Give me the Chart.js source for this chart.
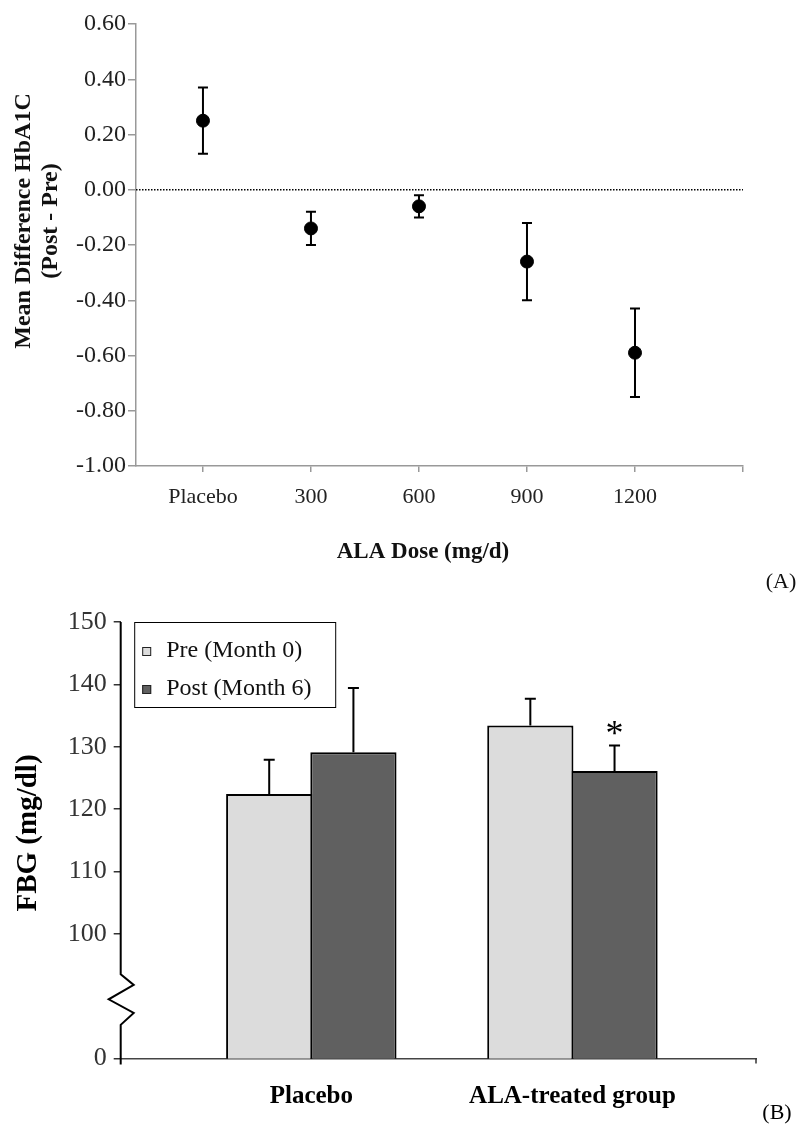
<!DOCTYPE html>
<html>
<head>
<meta charset="utf-8">
<script src="https://cdn.jsdelivr.net/npm/chart.js@4.4.1/dist/chart.umd.min.js"></script>
<style>
  html, body { margin: 0; padding: 0; background: #fff; }
  #chartA { position: absolute; left: 0; top: 0; }
  #chartB { position: absolute; left: 0; top: 595px; }
</style>
</head>
<body>
<canvas id="chartA" width="797" height="595"></canvas>
<canvas id="chartB" width="797" height="531"></canvas>
<script>
// panel A - HbA1C change by ALA dose
const doseLabels = ['Placebo', '300', '600', '900', '1200'];
const hba1cMean = [0.25, -0.14, -0.06, -0.26, -0.59];
const hba1cErr = [0.12, 0.06, 0.04, 0.14, 0.16];
const hba1cTicks = [-1.0, -0.8, -0.6, -0.4, -0.2, 0, 0.2, 0.4, 0.6];

// panel B - fasting blood glucose
const groupLabels = ['Placebo', 'ALA-treated group'];
const preMean = [122.4, 133.4];
const preErr = [5.5, 4.3];
const postMean = [129.1, 126.1];
const postErr = [10.3, 4.1];
const postMarks = ['', '*'];
const fbgTickValues = [80, 100, 110, 120, 130, 140, 150];
const fbgTickLabels = ['0', '100', '110', '120', '130', '140', '150'];

const serif = 'Liberation Serif';

// error bars, zero line and titles for panel A
const panelAExtras = {
    id: 'panelAExtras',
    beforeDatasetsDraw(chart) {
        const {ctx, chartArea} = chart;
        const x = chart.scales.x, y = chart.scales.y;
        const y0 = y.getPixelForValue(0);
        ctx.save();
        ctx.strokeStyle = '#000';
        ctx.lineWidth = 1.5;
        ctx.setLineDash([1.5, 1.5]);
        ctx.beginPath();
        ctx.moveTo(chartArea.left, y0);
        ctx.lineTo(chartArea.right, y0);
        ctx.stroke();
        ctx.setLineDash([]);
        ctx.lineWidth = 2;
        hba1cMean.forEach((m, i) => {
            const px = x.getPixelForValue(i);
            const top = y.getPixelForValue(m + hba1cErr[i]);
            const bot = y.getPixelForValue(m - hba1cErr[i]);
            ctx.beginPath();
            ctx.moveTo(px, top); ctx.lineTo(px, bot);
            ctx.moveTo(px - 5, top); ctx.lineTo(px + 5, top);
            ctx.moveTo(px - 5, bot); ctx.lineTo(px + 5, bot);
            ctx.stroke();
        });
        ctx.restore();
    },
    afterDraw(chart) {
        const ctx = chart.ctx;
        ctx.save();
        ctx.fillStyle = '#111';
        ctx.textAlign = 'center';
        ctx.font = 'bold 24px "' + serif + '"';
        ctx.translate(24, 221);
        ctx.rotate(-Math.PI / 2);
        ctx.textBaseline = 'middle';
        ctx.fillText('Mean Difference HbA1C', 0, 0);
        ctx.fillText('(Post - Pre)', 0, 27);
        ctx.setTransform(1, 0, 0, 1, 0, 0);
        ctx.textBaseline = 'alphabetic';
        ctx.font = 'bold 23px "' + serif + '"';
        ctx.fillText('ALA Dose (mg/d)', 423, 558);
        ctx.font = '22px "' + serif + '"';
        ctx.fillText('(A)', 781, 588);
        ctx.restore();
    }
};

new Chart(document.getElementById('chartA'), {
    type: 'scatter',
    data: {
        datasets: [{
            data: hba1cMean.map((v, i) => ({x: i, y: v})),
            pointRadius: 6.5,
            pointBackgroundColor: '#000',
            pointBorderColor: '#000',
            showLine: false
        }]
    },
    options: {
        responsive: false,
        animation: false,
        layout: { padding: { top: 24, right: 54, left: 0, bottom: 0 } },
        plugins: { legend: { display: false }, tooltip: { enabled: false } },
        scales: {
            x: {
                type: 'linear', min: -0.62, max: 5,
                afterBuildTicks: s => { s.ticks = doseLabels.concat(['']).map((_, i) => ({value: i})); },
                afterFit: s => { s.height = 129; },
                ticks: {
                    callback: v => doseLabels[v] !== undefined ? doseLabels[v] : '',
                    font: { family: serif, size: 22 }, color: '#222',
                    padding: 12, maxRotation: 0, autoSkip: false
                },
                grid: { drawOnChartArea: false, tickLength: 6, color: '#999', lineWidth: 1.5 },
                border: { color: '#999', width: 1.5 }
            },
            y: {
                min: -1, max: 0.6,
                afterBuildTicks: s => { s.ticks = hba1cTicks.map(v => ({value: v})); },
                afterFit: s => { s.width = 136; },
                ticks: {
                    callback: v => v.toFixed(2),
                    font: { family: serif, size: 24 }, color: '#222',
                    padding: 2, autoSkip: false
                },
                grid: { drawOnChartArea: false, tickLength: 8, color: '#999', lineWidth: 1.5 },
                border: { color: '#999', width: 1.5 }
            }
        }
    },
    plugins: [panelAExtras]
});

// broken axis, error bars, legend, star and titles for panel B
const panelBExtras = {
    id: 'panelBExtras',
    afterDatasetsDraw(chart) {
        const {ctx, chartArea} = chart;
        const y = chart.scales.y;
        const errs = [preErr, postErr];
        const means = [preMean, postMean];
        ctx.save();
        ctx.strokeStyle = '#000';
        ctx.lineWidth = 2;
        errs.forEach((err, d) => {
            chart.getDatasetMeta(d).data.forEach((bar, i) => {
                const top = y.getPixelForValue(means[d][i] + err[i]);
                ctx.beginPath();
                ctx.moveTo(bar.x, bar.y);
                ctx.lineTo(bar.x, top);
                ctx.moveTo(bar.x - 5.5, top);
                ctx.lineTo(bar.x + 5.5, top);
                ctx.stroke();
                if (d === 1 && postMarks[i]) {
                    ctx.fillStyle = '#000';
                    ctx.font = '36px "' + serif + '"';
                    ctx.textAlign = 'center';
                    ctx.textBaseline = 'middle';
                    ctx.fillText(postMarks[i], bar.x, top - 10);
                }
            });
        });

        // y axis with break
        const ax = chartArea.left;
        const zig = [[0, 93.5], [13, 91.8], [-12, 89.5], [13, 87.3], [0, 85.4]];
        ctx.beginPath();
        ctx.moveTo(ax, chartArea.top);
        zig.forEach(p => ctx.lineTo(ax + p[0], y.getPixelForValue(p[1])));
        ctx.lineTo(ax, chartArea.bottom + 6);
        ctx.stroke();

        // right end tick on x axis
        ctx.lineWidth = 1.5;
        ctx.strokeStyle = '#333';
        ctx.beginPath();
        ctx.moveTo(chartArea.right, chartArea.bottom);
        ctx.lineTo(chartArea.right, chartArea.bottom + 5);
        ctx.stroke();

        // legend
        const lx = chartArea.left + 13.5, ly = chartArea.top;
        ctx.lineWidth = 1;
        ctx.strokeStyle = '#000';
        ctx.strokeRect(lx + 0.5, ly + 0.5, 201, 85);
        ctx.font = '24px "' + serif + '"';
        ctx.textAlign = 'left';
        ctx.textBaseline = 'alphabetic';
        chart.data.datasets.forEach((ds, d) => {
            const sy = ly + 25 + d * 38;
            ctx.fillStyle = ds.backgroundColor;
            ctx.fillRect(lx + 8, sy, 9, 9);
            ctx.strokeStyle = '#222';
            ctx.strokeRect(lx + 8.5, sy + 0.5, 8, 8);
            ctx.fillStyle = '#111';
            ctx.fillText(ds.label, lx + 32, sy + 10);
        });

        // titles
        ctx.fillStyle = '#000';
        ctx.textAlign = 'center';
        ctx.textBaseline = 'middle';
        ctx.font = 'bold 29px "' + serif + '"';
        ctx.translate(29, 238);
        ctx.rotate(-Math.PI / 2);
        ctx.fillText('FBG (mg/dl)', 0, 0);
        ctx.setTransform(1, 0, 0, 1, 0, 0);
        ctx.textBaseline = 'alphabetic';
        ctx.font = '22px "' + serif + '"';
        ctx.fillText('(B)', 777, 524);
        ctx.restore();
    }
};

new Chart(document.getElementById('chartB'), {
    type: 'bar',
    data: {
        datasets: [
            {
                label: 'Pre (Month 0)',
                data: preMean.map((v, i) => ({x: i, y: v})),
                backgroundColor: '#dcdcdc',
                borderColor: '#000', borderWidth: 2, borderSkipped: false,
                categoryPercentage: 0.645, barPercentage: 1.024
            },
            {
                label: 'Post (Month 6)',
                data: postMean.map((v, i) => ({x: i, y: v})),
                backgroundColor: '#606060',
                borderColor: '#000', borderWidth: 2, borderSkipped: false,
                categoryPercentage: 0.645, barPercentage: 1.024
            }
        ]
    },
    options: {
        responsive: false,
        animation: false,
        layout: { padding: { top: 27, right: 41, left: 0, bottom: 0 } },
        plugins: { legend: { display: false }, tooltip: { enabled: false } },
        scales: {
            x: {
                type: 'linear', min: -0.73, max: 1.703, offset: false,
                afterBuildTicks: s => { s.ticks = groupLabels.map((_, i) => ({value: i})); },
                afterFit: s => { s.height = 67.5; },
                ticks: {
                    callback: v => groupLabels[v] !== undefined ? groupLabels[v] : '',
                    font: { family: serif, size: 25, weight: 'bold' }, color: '#000',
                    padding: 23, maxRotation: 0, autoSkip: false
                },
                grid: { display: false, drawTicks: false, tickLength: 0, offset: false },
                border: { color: '#444', width: 1.5 }
            },
            y: {
                min: 80, max: 150,
                afterBuildTicks: s => { s.ticks = fbgTickValues.map(v => ({value: v})); },
                afterFit: s => { s.width = 120.7; },
                ticks: {
                    callback: v => fbgTickLabels[fbgTickValues.indexOf(v)],
                    font: { family: serif, size: 26 }, color: '#333',
                    padding: 7, autoSkip: false
                },
                grid: { drawOnChartArea: false, tickLength: 7, color: '#333', lineWidth: 1.5 },
                border: { display: false }
            }
        }
    },
    plugins: [panelBExtras]
});
</script>
</body>
</html>
